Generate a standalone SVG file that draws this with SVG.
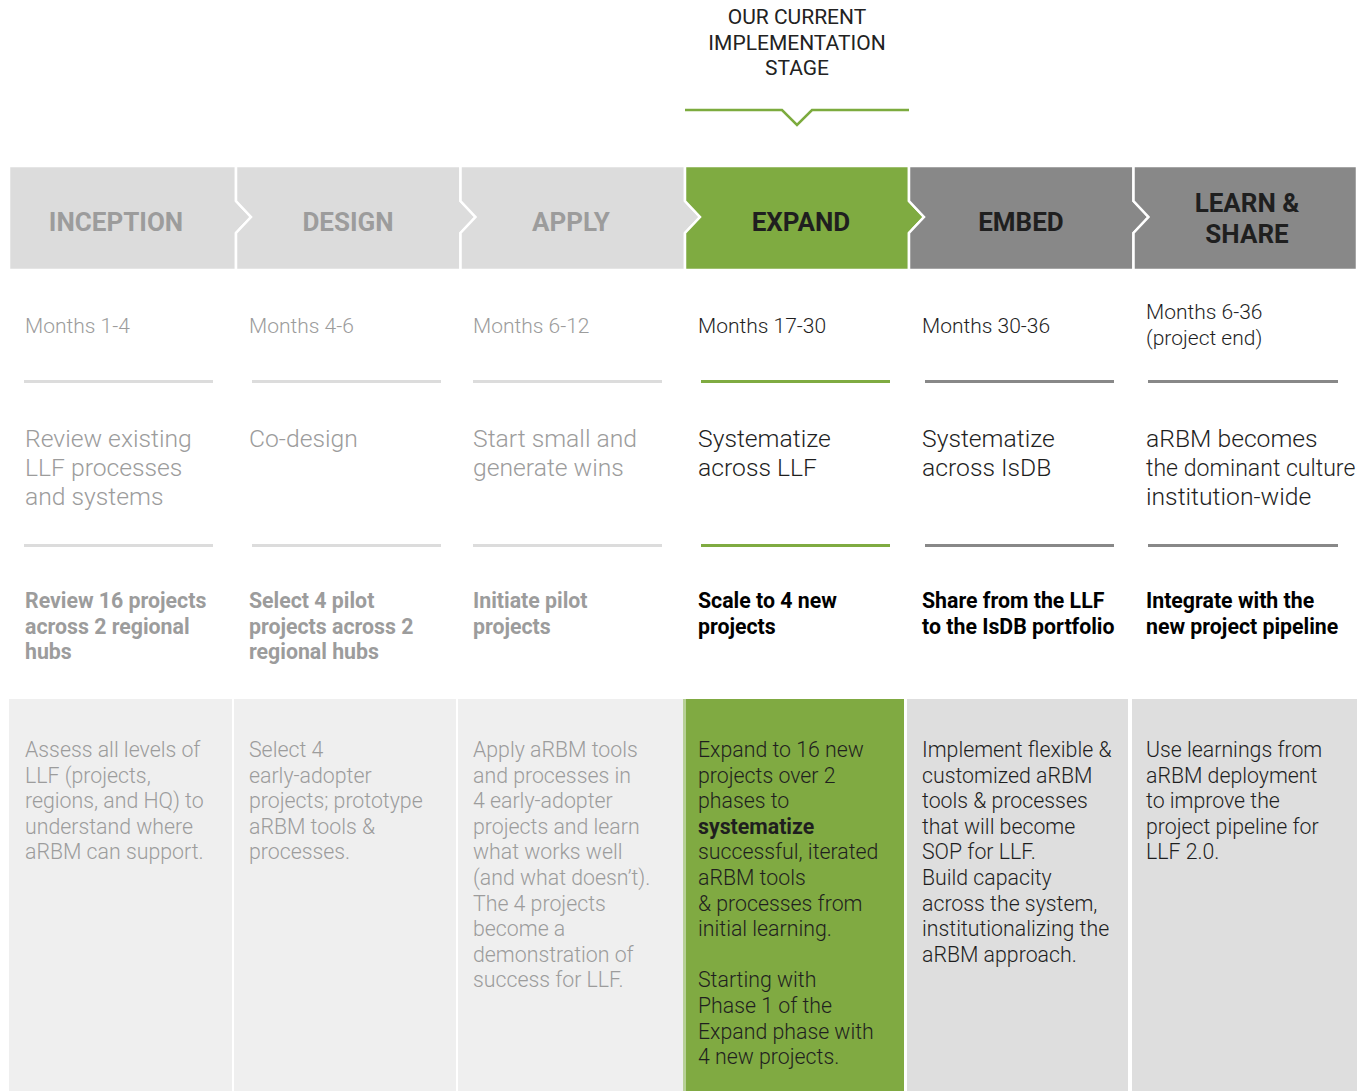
<svg xmlns="http://www.w3.org/2000/svg" width="1367" height="1091" viewBox="0 0 1367 1091">
<style>
text{font-family:Roboto,"Liberation Sans",sans-serif;}
.hd{font-size:26px;font-weight:700;text-anchor:middle;}
.lt{fill:#9c9c9c;}
.dk{fill:#1f1f1f;}
.mo{font-size:21px;font-weight:300;}
.ob{font-size:24.7px;font-weight:300;}
.bd{font-size:21.3px;font-weight:700;}
.tx{font-size:21.3px;font-weight:300;}
.stage{font-size:21px;font-weight:400;fill:#222;text-anchor:middle;}
.chev{stroke:#fff;stroke-width:2.5;}
.sep{stroke-width:3;fill:none;}
</style>
<rect width="1367" height="1091" fill="#fff"/>

<g id="stage-label">
<text class="stage" x="797" y="24">OUR CURRENT</text>
<text class="stage" x="797" y="49.5">IMPLEMENTATION</text>
<text class="stage" x="797" y="75">STAGE</text>
<polyline points="685,110 782,110 797,125 812,110 909,110" fill="none" stroke="#7cab3e" stroke-width="2.5"/>
</g>

<g id="inception">
<polygon class="chev" fill="#dcdcdc" points="9,166 236,166 236,201 251,217 236,233 236,270 9,270"/>
<text class="hd lt" x="116" y="231">INCEPTION</text>
<text class="mo lt" x="25" y="333">Months 1-4</text>
<line class="sep" stroke="#dcdcdc" x1="24" y1="381.5" x2="213" y2="381.5"/>
<text class="ob lt"><tspan x="25" y="447">Review existing</tspan><tspan x="25" y="476">LLF processes</tspan><tspan x="25" y="505">and systems</tspan></text>
<line class="sep" stroke="#dcdcdc" x1="24" y1="545.5" x2="213" y2="545.5"/>
<text class="bd lt"><tspan x="25" y="608">Review 16 projects</tspan><tspan x="25" y="633.5">across 2 regional</tspan><tspan x="25" y="659">hubs</tspan></text>
<rect x="9" y="699" width="223" height="392" fill="#efefef"/>
<text class="tx lt"><tspan x="25" y="757">Assess all levels of</tspan><tspan x="25" y="782.6">LLF (projects,</tspan><tspan x="25" y="808.2">regions, and HQ) to</tspan><tspan x="25" y="833.8">understand where</tspan><tspan x="25" y="859.4">aRBM can support.</tspan></text>
</g>

<g id="design">
<polygon class="chev" fill="#dcdcdc" points="236,166 460.5,166 460.5,201 475.5,217 460.5,233 460.5,270 236,270 236,233 251,217 236,201"/>
<text class="hd lt" x="348" y="231">DESIGN</text>
<text class="mo lt" x="249" y="333">Months 4-6</text>
<line class="sep" stroke="#dcdcdc" x1="252" y1="381.5" x2="441" y2="381.5"/>
<text class="ob lt"><tspan x="249" y="447">Co-design</tspan></text>
<line class="sep" stroke="#dcdcdc" x1="252" y1="545.5" x2="441" y2="545.5"/>
<text class="bd lt"><tspan x="249" y="608">Select 4 pilot</tspan><tspan x="249" y="633.5">projects across 2</tspan><tspan x="249" y="659">regional hubs</tspan></text>
<rect x="234" y="699" width="222" height="392" fill="#efefef"/>
<text class="tx lt"><tspan x="249" y="757">Select 4</tspan><tspan x="249" y="782.6">early-adopter</tspan><tspan x="249" y="808.2">projects; prototype</tspan><tspan x="249" y="833.8">aRBM tools &amp;</tspan><tspan x="249" y="859.4">processes.</tspan></text>
</g>

<g id="apply">
<polygon class="chev" fill="#dcdcdc" points="460.5,166 685,166 685,201 700,217 685,233 685,270 460.5,270 460.5,233 475.5,217 460.5,201"/>
<text class="hd lt" x="571" y="231">APPLY</text>
<text class="mo lt" x="473" y="333">Months 6-12</text>
<line class="sep" stroke="#dcdcdc" x1="473" y1="381.5" x2="662" y2="381.5"/>
<text class="ob lt"><tspan x="473" y="447">Start small and</tspan><tspan x="473" y="476">generate wins</tspan></text>
<line class="sep" stroke="#dcdcdc" x1="473" y1="545.5" x2="662" y2="545.5"/>
<text class="bd lt"><tspan x="473" y="608">Initiate pilot</tspan><tspan x="473" y="633.5">projects</tspan></text>
<rect x="458" y="699" width="225" height="392" fill="#efefef"/>
<text class="tx lt"><tspan x="473" y="757">Apply aRBM tools</tspan><tspan x="473" y="782.6">and processes in</tspan><tspan x="473" y="808.2">4 early-adopter</tspan><tspan x="473" y="833.8">projects and learn</tspan><tspan x="473" y="859.4">what works well</tspan><tspan x="473" y="885">(and what doesn’t).</tspan><tspan x="473" y="910.6">The 4 projects</tspan><tspan x="473" y="936.2">become a</tspan><tspan x="473" y="961.8">demonstration of</tspan><tspan x="473" y="987.4">success for LLF.</tspan></text>
</g>

<g id="expand">
<polygon class="chev" fill="#7fab41" points="685,166 909,166 909,201 924,217 909,233 909,270 685,270 685,233 700,217 685,201"/>
<text class="hd dk" x="801" y="231">EXPAND</text>
<text class="mo dk" x="698" y="333">Months 17-30</text>
<line class="sep" stroke="#7fab41" x1="701" y1="381.5" x2="890" y2="381.5"/>
<text class="ob dk"><tspan x="698" y="447">Systematize</tspan><tspan x="698" y="476">across LLF</tspan></text>
<line class="sep" stroke="#7fab41" x1="701" y1="545.5" x2="890" y2="545.5"/>
<text class="bd" fill="#000"><tspan x="698" y="608">Scale to 4 new</tspan><tspan x="698" y="633.5">projects</tspan></text>
<rect x="683" y="699" width="221" height="392" fill="#80aa42"/>
<rect x="683" y="699" width="3" height="392" fill="#b7d096"/>
<text class="tx dk"><tspan x="698" y="757">Expand to 16 new</tspan><tspan x="698" y="782.6">projects over 2</tspan><tspan x="698" y="808.2">phases to</tspan><tspan x="698" y="833.8" font-weight="700">systematize</tspan><tspan x="698" y="859.4">successful, iterated</tspan><tspan x="698" y="885">aRBM tools</tspan><tspan x="698" y="910.6">&amp; processes from</tspan><tspan x="698" y="936.2">initial learning.</tspan><tspan x="698" y="987.4">Starting with</tspan><tspan x="698" y="1013">Phase 1 of the</tspan><tspan x="698" y="1038.6">Expand phase with</tspan><tspan x="698" y="1064.2">4 new projects.</tspan></text>
</g>

<g id="embed">
<polygon class="chev" fill="#888888" points="909,166 1133.5,166 1133.5,201 1148.5,217 1133.5,233 1133.5,270 909,270 909,233 924,217 909,201"/>
<text class="hd dk" x="1021" y="231">EMBED</text>
<text class="mo dk" x="922" y="333">Months 30-36</text>
<line class="sep" stroke="#888888" x1="925" y1="381.5" x2="1114" y2="381.5"/>
<text class="ob dk"><tspan x="922" y="447">Systematize</tspan><tspan x="922" y="476">across IsDB</tspan></text>
<line class="sep" stroke="#888888" x1="925" y1="545.5" x2="1114" y2="545.5"/>
<text class="bd" fill="#000"><tspan x="922" y="608">Share from the LLF</tspan><tspan x="922" y="633.5">to the IsDB portfolio</tspan></text>
<rect x="907" y="699" width="221" height="392" fill="#dedede"/>
<text class="tx dk"><tspan x="922" y="757">Implement flexible &amp;</tspan><tspan x="922" y="782.6">customized aRBM</tspan><tspan x="922" y="808.2">tools &amp; processes</tspan><tspan x="922" y="833.8">that will become</tspan><tspan x="922" y="859.4">SOP for LLF.</tspan><tspan x="922" y="885">Build capacity</tspan><tspan x="922" y="910.6">across the system,</tspan><tspan x="922" y="936.2">institutionalizing the</tspan><tspan x="922" y="961.8">aRBM approach.</tspan></text>
</g>

<g id="learn-share">
<polygon class="chev" fill="#888888" points="1133.5,166 1357,166 1357,270 1133.5,270 1133.5,233 1148.5,217 1133.5,201"/>
<text class="hd dk"><tspan x="1247" y="212">LEARN &amp;</tspan><tspan x="1247" y="243">SHARE</tspan></text>
<text class="mo dk"><tspan x="1146" y="319">Months 6-36</tspan><tspan x="1146" y="345">(project end)</tspan></text>
<line class="sep" stroke="#888888" x1="1148" y1="381.5" x2="1338" y2="381.5"/>
<text class="ob dk" x="1146" y="447">aRBM becomes</text>
<text class="ob dk" x="1146" y="476" style="font-size:23.1px">the dominant culture</text>
<text class="ob dk" x="1146" y="505">institution-wide</text>
<line class="sep" stroke="#888888" x1="1148" y1="545.5" x2="1338" y2="545.5"/>
<text class="bd" fill="#000"><tspan x="1146" y="608">Integrate with the</tspan><tspan x="1146" y="633.5">new project pipeline</tspan></text>
<rect x="1132" y="699" width="225" height="392" fill="#dedede"/>
<text class="tx dk"><tspan x="1146" y="757">Use learnings from</tspan><tspan x="1146" y="782.6">aRBM deployment</tspan><tspan x="1146" y="808.2">to improve the</tspan><tspan x="1146" y="833.8">project pipeline for</tspan><tspan x="1146" y="859.4">LLF 2.0.</tspan></text>
</g>

<g id="connectors"></g>
</svg>
